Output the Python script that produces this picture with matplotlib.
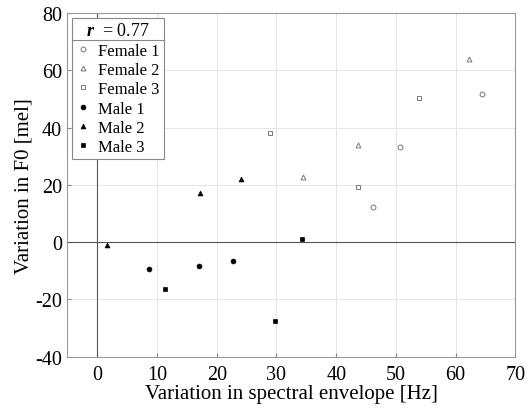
import matplotlib
matplotlib.use('Agg')
import matplotlib.pyplot as plt
from matplotlib.lines import Line2D

plt.rcParams['font.family'] = ['Liberation Serif', 'DejaVu Serif']
plt.rcParams['mathtext.fontset'] = 'custom'
plt.rcParams['mathtext.bfit'] = 'Liberation Serif:italic:bold'
plt.rcParams['mathtext.rm'] = 'Liberation Serif'
plt.rcParams['axes.unicode_minus'] = False

# data: (spectral envelope variation [Hz], F0 variation [mel])
speakers = ['Female 1', 'Female 2', 'Female 3', 'Male 1', 'Male 2', 'Male 3']
x_vals = [
    [50.6, 46.2, 64.4],
    [43.6, 34.5, 62.3],
    [28.9, 43.6, 53.8],
    [8.7, 17.0, 22.8],
    [1.7, 17.2, 24.0],
    [11.4, 29.8, 34.3],
]
y_vals = [
    [33.4, 12.4, 51.6],
    [34.1, 22.8, 63.8],
    [38.0, 19.3, 50.5],
    [-9.4, -8.2, -6.6],
    [-0.9, 17.1, 22.0],
    [-16.4, -27.5, 1.2],
]
markers = ['o', '^', 's', 'o', '^', 's']
r_value = 0.77

fig = plt.figure(figsize=(5.27, 4.10), dpi=100)
ax = fig.add_axes([0.128, 0.1276, 0.850, 0.838])

ax.axhline(0, color='#555555', lw=0.8, zorder=1)
ax.axvline(0, color='#555555', lw=0.8, zorder=1)

for i, name in enumerate(speakers):
    if name.startswith('Female'):
        ax.plot(x_vals[i], y_vals[i], ls='none', marker=markers[i], ms=3.5,
                mfc='white', mec='#777777', mew=0.7, label=name, zorder=3)
    else:
        ax.plot(x_vals[i], y_vals[i], ls='none', marker=markers[i], ms=3.5,
                mfc='black', mec='black', mew=0.5, label=name, zorder=3)

ax.set_xlim(-5, 70)
ax.set_ylim(-40, 80)
ax.set_xticks(range(0, 71, 10))
ax.set_yticks(range(-40, 81, 20))
ax.grid(True, color='#e6e6e6', lw=0.7)
ax.set_axisbelow(True)
ax.tick_params(direction='in', length=3, labelsize=14.5, colors='#888888',
               labelcolor='black')
ax.tick_params(axis='x', pad=6)
ax.tick_params(axis='y', pad=4)
for s in ax.spines.values():
    s.set_color('#999999')
    s.set_linewidth(0.8)

ax.set_xlabel('Variation in spectral envelope [Hz]', fontsize=15, labelpad=0)
ax.set_ylabel('Variation in F0 [mel]', fontsize=15, labelpad=1)

leg = ax.legend(title=r'$\mathbfit{r}$  = %.2f' % r_value, loc='upper left',
                bbox_to_anchor=(0.0, 1.0), fontsize=12, title_fontsize=13,
                fancybox=False, edgecolor='#888888', framealpha=1,
                handlelength=0.8, handletextpad=0.5, labelspacing=0.2,
                borderpad=0.25, borderaxespad=0.3, markerscale=1.0)
leg.get_frame().set_linewidth(0.8)

# separator line under the legend title
fig.canvas.draw()
lb = leg.get_window_extent()
tb = leg.get_title().get_window_extent()
yline = tb.y0 - 1
fig.add_artist(Line2D([lb.x0, lb.x1], [yline, yline], transform=None,
                      color='#888888', lw=0.8))

fig.savefig('out.png', dpi=100)
